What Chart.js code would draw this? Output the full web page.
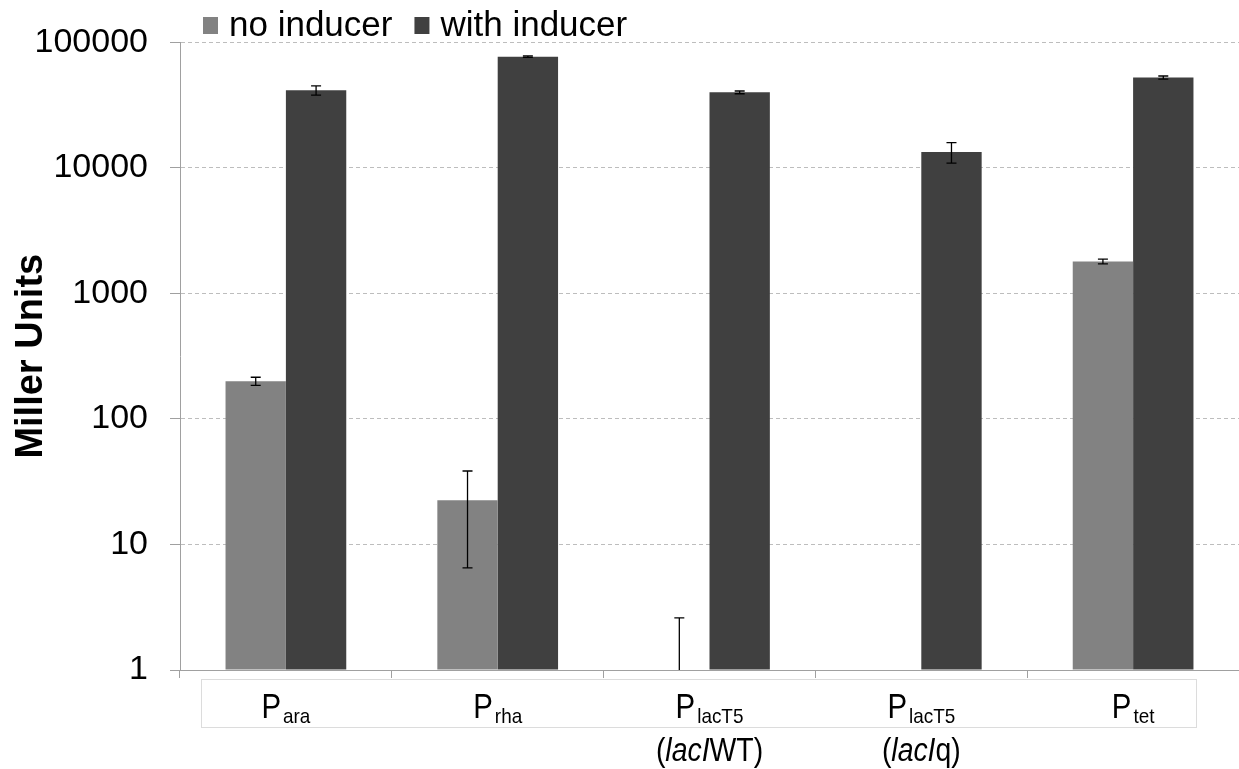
<!DOCTYPE html>
<html>
<head>
<meta charset="utf-8">
<script src="https://cdn.jsdelivr.net/npm/chart.js@4/dist/chart.umd.min.js"></script>
<style>
  html, body { margin: 0; padding: 0; background: #fff; }
  #wrap { width: 1239px; height: 769px; position: relative; }
</style>
</head>
<body>
<div id="wrap"><canvas id="chart" width="1239" height="769"></canvas></div>
<script>
// promoter names: big "P" plus a subscript, and an optional second line
const promoters = ['ara', 'rha', 'lacT5', 'lacT5', 'tet'];
const secondLines = [
  null,
  null,
  [['(', false], ['lacI', true], ['WT)', false]],
  [['(', false], ['lacI', true], ['q)', false]],
  null
];

// Miller units (log axis), with standard deviation
const noInducer = [200, 22.5, 1, 1, 1800];
const noInducerErr = [15, 16, 1.6, 0, 80];
const withInducer = [41500, 77000, 40000, 13400, 52500];
const withInducerErr = [3500, 1000, 1000, 2500, 1500];

const yTicks = [1, 10, 100, 1000, 10000, 100000];

const FONT = "'Liberation Sans', Arial, sans-serif";
const GRAY = '#828282';
const DARK = '#404040';

const errorBars = {
  id: 'errorBars',
  afterDatasetsDraw(chart) {
    const { ctx, chartArea } = chart;
    const y = chart.scales.y;
    const errs = [noInducerErr, withInducerErr];
    ctx.save();
    ctx.beginPath();
    ctx.rect(chartArea.left, chartArea.top - 10, chartArea.right - chartArea.left, chartArea.bottom - chartArea.top + 10);
    ctx.clip();
    ctx.strokeStyle = '#000';
    ctx.lineWidth = 1.3;
    chart.data.datasets.forEach((ds, di) => {
      const meta = chart.getDatasetMeta(di);
      meta.data.forEach((bar, i) => {
        const v = ds.data[i];
        const e = errs[di][i];
        if (!e) return;
        const top = y.getPixelForValue(v + e);
        const bot = v - e > 0 ? y.getPixelForValue(v - e) : chartArea.bottom + 5;
        const x = bar.x;
        ctx.beginPath();
        ctx.moveTo(x, top); ctx.lineTo(x, bot);
        ctx.moveTo(x - 5, top); ctx.lineTo(x + 5, top);
        if (v - e > 0) { ctx.moveTo(x - 5, bot); ctx.lineTo(x + 5, bot); }
        ctx.stroke();
      });
    });
    ctx.restore();
  }
};

// legend row above the plot
const topLegend = {
  id: 'topLegend',
  afterDraw(chart) {
    const { ctx } = chart;
    ctx.save();
    ctx.font = '35px ' + FONT;
    ctx.textBaseline = 'alphabetic';
    let x = 203;
    chart.data.datasets.forEach(ds => {
      ctx.fillStyle = ds.backgroundColor;
      ctx.fillRect(x, 17, 15, 17);
      ctx.fillStyle = '#000';
      ctx.fillText(ds.label, x + 26, 36);
      x += 26 + ctx.measureText(ds.label).width + 22;
    });
    ctx.restore();
  }
};

// text squeezed horizontally, as the category labels are narrow
function narrowText(ctx, text, x, y, font, sx) {
  ctx.font = font;
  ctx.save();
  ctx.translate(x, y);
  ctx.scale(sx, 1);
  ctx.fillText(text, 0, 0);
  ctx.restore();
  return ctx.measureText(text).width * sx;
}

// category labels with subscripts, inside a light frame
const promoterLabels = {
  id: 'promoterLabels',
  afterDraw(chart) {
    const { ctx } = chart;
    const xs = chart.scales.x;
    ctx.save();
    ctx.strokeStyle = '#dcdcdc';
    ctx.lineWidth = 1;
    ctx.strokeRect(201.5, 679.5, 995, 48);
    ctx.fillStyle = '#000';
    ctx.textBaseline = 'alphabetic';
    const bigFont = '35px ' + FONT;
    const subFont = '21px ' + FONT;
    promoters.forEach((sub, i) => {
      const cx = xs.getPixelForValue(i);
      ctx.font = bigFont;
      const wP = ctx.measureText('P').width * 0.84;
      ctx.font = subFont;
      const wS = ctx.measureText(sub).width * 0.9;
      const x = cx - (wP + 2 + wS) / 2;
      narrowText(ctx, 'P', x, 718, bigFont, 0.84);
      narrowText(ctx, sub, x + wP + 2, 723, subFont, 0.9);
      const line = secondLines[i];
      if (line) {
        const fontFor = it => (it ? 'italic ' : '') + '33px ' + FONT;
        let w = 0;
        line.forEach(([t, it]) => { ctx.font = fontFor(it); w += ctx.measureText(t).width * 0.86; });
        let lx = cx - w / 2;
        line.forEach(([t, it]) => {
          lx += narrowText(ctx, t, lx, 761, fontFor(it), 0.86);
        });
      }
    });
    ctx.restore();
  }
};

new Chart(document.getElementById('chart'), {
  type: 'bar',
  data: {
    labels: promoters.map(p => 'P' + p),
    datasets: [
      { label: 'no inducer', data: noInducer, backgroundColor: GRAY },
      { label: 'with inducer', data: withInducer, backgroundColor: DARK }
    ]
  },
  options: {
    responsive: false,
    animation: false,
    layout: { padding: { top: 40, right: 0, bottom: 91, left: 0 } },
    datasets: { bar: { categoryPercentage: 0.57, barPercentage: 1.0, base: 1 } },
    plugins: { legend: { display: false }, tooltip: { enabled: false } },
    scales: {
      x: {
        grid: { drawOnChartArea: false, drawTicks: true, tickLength: 8, color: '#a0a0a0', offset: true },
        border: { color: '#a0a0a0' },
        ticks: { display: false }
      },
      y: {
        type: 'logarithmic',
        min: 1,
        max: 100000,
        afterBuildTicks: s => { s.ticks = yTicks.map(v => ({ value: v })); },
        afterFit: s => { s.width = 180; },
        grid: { color: '#bdbdbd', tickColor: '#a0a0a0', tickLength: 10 },
        border: { color: '#a0a0a0', dash: [4, 3] },
        ticks: {
          padding: 22,
          color: '#000',
          font: { family: FONT, size: 34 },
          callback: v => String(v)
        },
        title: {
          display: true,
          text: 'Miller Units',
          color: '#000',
          font: { family: FONT, size: 38, weight: 'bold' },
          padding: { top: 9, bottom: 0 }
        }
      }
    }
  },
  plugins: [errorBars, topLegend, promoterLabels]
});
</script>
</body>
</html>
